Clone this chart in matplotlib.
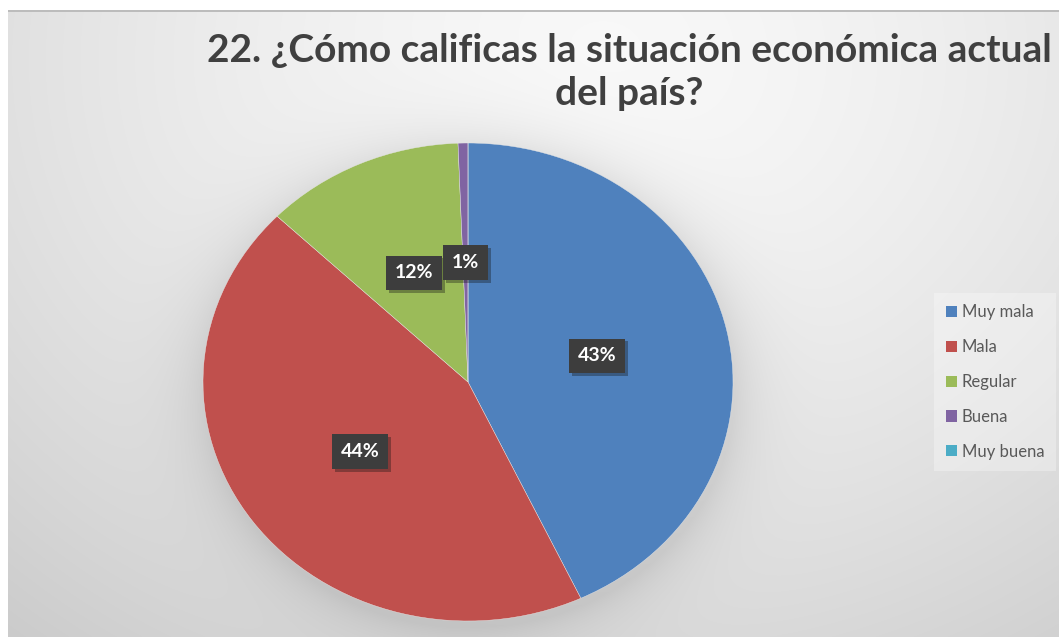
import numpy as np
import matplotlib.pyplot as plt
import matplotlib.patheffects as pe

# respuestas a la pregunta 22 (porcentaje del total)
categorias = ['Muy mala', 'Mala', 'Regular', 'Buena', 'Muy buena']
porcentajes = [43.0, 44.2, 12.2, 0.6, 0.0]
colores = ['#4F81BD', '#C0504D', '#9BBB59', '#8064A2', '#4BACC6']
titulo = '22. ¿Cómo calificas la situación económica actual\ndel país?'

W, H = 1059, 637
fig = plt.figure(figsize=(W / 100, H / 100), dpi=100)

# fondo con degradado radial y sombra suave alrededor del pastel
bg = fig.add_axes([0, 0, 1, 1])
bg.axis('off')
yy, xx = np.mgrid[0:H, 0:W]
d = np.hypot(xx - 600, (yy - 60) * 1.2)
val = 0.975 - 0.18 * (d / 916) ** 1.5
r = np.hypot((xx - 470) / 265, (yy - 388) / 239)
val -= 0.09 * np.where(r >= 1, np.exp(-(r - 1) * 9), 1)
val[:10, :] = 1.0
val[:, :8] = 1.0
val[10:12, 8:] = 0.74
img = np.dstack([val, val, val]).clip(0, 1)
bg.imshow(img, extent=[0, W, H, 0], aspect='auto', interpolation='bilinear')
bg.set_xlim(0, W)
bg.set_ylim(H, 0)

# pastel (ligeramente elíptico)
ax = fig.add_axes([203 / W, (H - 621) / H, 530 / W, 478 / H])
ax.patch.set_alpha(0)
wedges, _, autotexts = ax.pie(
    porcentajes, colors=colores, startangle=90, counterclock=False,
    autopct=lambda p: f'{p:.0f}%' if p >= 0.5 else '', pctdistance=0.5,
    wedgeprops=dict(edgecolor='#e8e8e8', linewidth=0.3),
    textprops=dict(color='white', fontsize=14, fontweight='bold', family='Lato'))
ax.set_aspect('auto')
ax.set_xlim(-1, 1)
ax.set_ylim(-1, 1)

for t in autotexts:
    if t.get_text():
        t.set_bbox(dict(boxstyle='square,pad=0.45', fc='#3d3d3d', ec='none'))
        t.get_bbox_patch().set_path_effects(
            [pe.SimplePatchShadow(offset=(2, -2), alpha=0.35), pe.Normal()])

fig.text(0.594, 1 - 72 / H, titulo, ha='center', va='center',
         fontsize=28, fontweight='bold', family='Lato', color='#404040',
         linespacing=1.25)

leg = fig.legend(wedges, categorias, loc='center left',
                 bbox_to_anchor=(926 / W, 1 - 382 / H),
                 frameon=True, fancybox=False, framealpha=0.3,
                 facecolor='white', edgecolor='none',
                 handlelength=0.65, handleheight=0.65, handletextpad=0.3,
                 labelspacing=1.13, borderpad=0.7,
                 prop=dict(family='Lato', size=12))
for txt in leg.get_texts():
    txt.set_color('#595959')
for h in leg.legend_handles:
    h.set_edgecolor('none')

fig.savefig('out.png', dpi=100)
